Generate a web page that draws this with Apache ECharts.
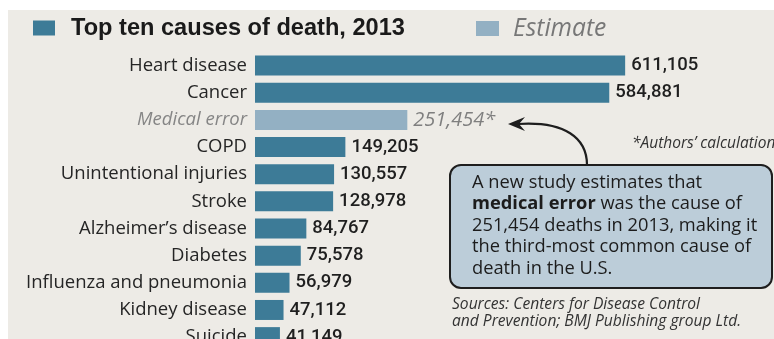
<!DOCTYPE html>
<html>
<head>
<meta charset="utf-8">
<script src="https://cdn.jsdelivr.net/npm/echarts@6/dist/echarts.min.js"></script>
<style>html,body{margin:0;padding:0;background:#fff}#c{width:774px;height:339px}</style>
</head>
<body>
<div id="c"></div>
<script>
const categories = ['Heart disease','Cancer','Medical error','COPD','Unintentional injuries','Stroke',"Alzheimer\u2019s disease",'Diabetes','Influenza and pneumonia','Kidney disease','Suicide'];
const reportedDeaths = [611105,584881,null,149205,130557,128978,84767,75578,56979,47112,41149];
const estimatedDeaths = [null,null,251454,null,null,null,null,null,null,null,null];
const titleText = 'Top ten causes of death, 2013';
const estimateText = 'Estimate';
const calloutLines = ['A new study estimates that','{b|medical error} was the cause of','251,454 deaths in 2013, making it','the third-most common cause of','death in the U.S.'];
const footnoteText = "*Authors\u2019 calculation";
const sourceLines = ['Sources: Centers for Disease Control','and Prevention; BMJ Publishing group Ltd.'];

const fmt = v => v.toLocaleString('en-US');
const chart = echarts.init(document.getElementById('c'));
chart.setOption({
  backgroundColor: '#ffffff',
  animation: false,
  textStyle: {fontFamily: 'Open Sans'},
  legend: [
    {data: [{name: titleText, textStyle: {fontFamily: 'Liberation Sans', fontWeight: 'bold', color: '#1a1a1a', fontSize: 23.6, padding: [0,0,0,11]}}],
     left: 33, top: 16, padding: 0, icon: 'rect', itemWidth: 22, itemHeight: 15, selectedMode: false},
    {data: [{name: estimateText, textStyle: {fontFamily: 'Open Sans', fontStyle: 'italic', color: '#777777', fontSize: 24.6, padding: [0,0,0,9]}}],
     left: 476, top: 16, padding: 0, icon: 'rect', itemWidth: 23, itemHeight: 15, selectedMode: false}
  ],
  grid: {left: 255, top: 52, width: 424, height: 298.7, containLabel: false, outerBoundsMode: 'none'},
  xAxis: {type: 'value', min: 0, max: 700000, show: false},
  yAxis: {
    type: 'category', data: categories, inverse: true,
    axisLine: {show: false}, axisTick: {show: false},
    axisLabel: {
      margin: 8, fontSize: 18.5, fontFamily: 'Open Sans', color: '#252525',
      formatter: v => v === 'Medical error' ? '{it|' + v + '}' : v,
      rich: {it: {fontStyle: 'italic', color: '#858585', fontSize: 18.5, fontFamily: 'Open Sans'}}
    }
  },
  series: [
    {name: titleText, type: 'bar', stack: 'all', data: reportedDeaths, barWidth: 20,
     itemStyle: {color: '#3d7b97'},
     label: {show: true, position: 'right', distance: 6, fontSize: 18.5, fontFamily: 'Roboto', fontWeight: 500, color: '#1f1f1f',
             formatter: p => p.value == null ? '' : fmt(p.value)}},
    {name: estimateText, type: 'bar', stack: 'all', data: estimatedDeaths, barWidth: 20,
     itemStyle: {color: '#93b0c3'},
     label: {show: true, position: 'right', distance: 6, fontSize: 20, fontFamily: 'Open Sans', fontStyle: 'italic', color: '#7f7f7f',
             formatter: p => p.value == null ? '' : fmt(p.value) + '*'}}
  ],
  graphic: [
    {type: 'rect', z: -10, silent: true, shape: {x: 8, y: 10, width: 766, height: 329}, style: {fill: '#edebe6'}},
    {type: 'rect', z: 10, shape: {x: 450, y: 165, width: 322, height: 123, r: 11},
     style: {fill: '#bccdd9', stroke: '#1e1e1e', lineWidth: 2}},
    {type: 'text', z: 11, x: 472, y: 172,
     style: {text: calloutLines.join('\n'), fontFamily: 'Open Sans', fontSize: 18.3, lineHeight: 21.5, fill: '#1c1c1c',
             rich: {b: {fontWeight: 'bold', fontFamily: 'Open Sans', fontSize: 18.3, fill: '#1c1c1c'}}}},
    {type: 'bezierCurve', z: 10, shape: {x1: 587, y1: 165, cpx1: 587, cpy1: 138, cpx2: 565, cpy2: 121, x2: 518, y2: 124},
     style: {fill: null, stroke: '#1e1e1e', lineWidth: 2.2}},
    {type: 'polygon', z: 10, shape: {points: [[508,124],[525,117],[519,124],[525,131]]}, style: {fill: '#1e1e1e'}},
    {type: 'text', z: 11, x: 632, y: 136,
     style: {text: footnoteText, fontFamily: 'Open Sans', fontStyle: 'italic', fontSize: 15.5, fill: '#333'}},
    {type: 'text', z: 11, x: 452, y: 296,
     style: {text: sourceLines.join('\n'), fontFamily: 'Open Sans', fontStyle: 'italic', fontSize: 15.6, lineHeight: 17, fill: '#333'}}
  ]
});
</script>
</body>
</html>
